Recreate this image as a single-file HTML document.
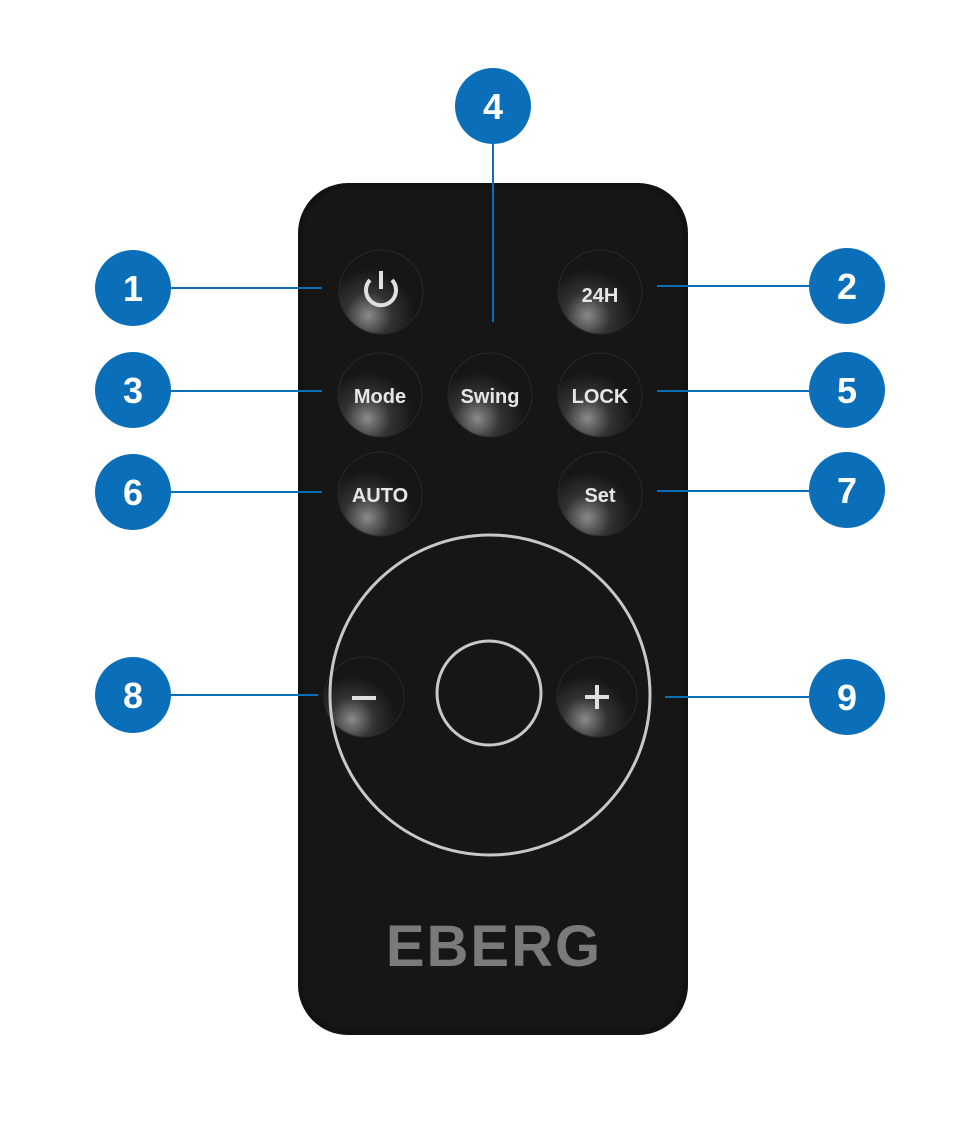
<!DOCTYPE html><html><head><style>body{margin:0;background:#fff;width:970px;height:1142px;overflow:hidden}</style></head><body>
<svg width="970" height="1142" xmlns="http://www.w3.org/2000/svg">
<defs>
<radialGradient id="b" cx="0.35" cy="0.78" r="0.55"><stop offset="0" stop-color="#8a8a8a"/><stop offset="0.5" stop-color="#333"/><stop offset="1" stop-color="#161616"/></radialGradient>
</defs>
<rect x="298" y="183" width="390" height="852" rx="50" fill="#121212"/>
<rect x="303" y="188" width="380" height="842" rx="46" fill="#161616"/>
<g fill="url(#b)" stroke="#2a2a2a" stroke-width="1">
<circle cx="381" cy="292" r="42"/><circle cx="600" cy="292" r="42"/>
<circle cx="380" cy="395" r="42"/><circle cx="490" cy="395" r="42"/><circle cx="600" cy="395" r="42"/>
<circle cx="380" cy="494" r="42"/><circle cx="600" cy="494" r="42"/>
<circle cx="364" cy="697" r="40"/><circle cx="597" cy="697" r="40"/>
</g>
<circle cx="490" cy="695" r="160" fill="none" stroke="#c8c8c8" stroke-width="3"/>
<circle cx="489" cy="693" r="52" fill="none" stroke="#c8c8c8" stroke-width="3"/>
<path d="M370 280 A15 15 0 1 0 392 280" fill="none" stroke="#e0e0e0" stroke-width="4"/>
<line x1="381" y1="271" x2="381" y2="289" stroke="#e0e0e0" stroke-width="4"/>
<g font-family="Liberation Sans,sans-serif" font-weight="bold" fill="#e6e6e6" font-size="20" text-anchor="middle">
<text x="600" y="302">24H</text><text x="380" y="403">Mode</text><text x="490" y="403">Swing</text><text x="600" y="403">LOCK</text>
<text x="380" y="502">AUTO</text><text x="600" y="502">Set</text>
</g>
<line x1="352" y1="698" x2="376" y2="698" stroke="#e0e0e0" stroke-width="4"/>
<line x1="585" y1="697" x2="609" y2="697" stroke="#e0e0e0" stroke-width="4"/><line x1="597" y1="685" x2="597" y2="709" stroke="#e0e0e0" stroke-width="4"/>
<text x="494" y="966" font-family="Liberation Sans,sans-serif" font-weight="bold" font-size="58" fill="#7a7a7a" text-anchor="middle" letter-spacing="2">EBERG</text>
<g stroke="#0a6fb8" stroke-width="2">
<line x1="170" y1="288" x2="322" y2="288"/><line x1="657" y1="286" x2="810" y2="286"/>
<line x1="170" y1="391" x2="322" y2="391"/><line x1="493" y1="143" x2="493" y2="322"/>
<line x1="657" y1="391" x2="810" y2="391"/><line x1="170" y1="492" x2="322" y2="492"/>
<line x1="657" y1="491" x2="810" y2="491"/><line x1="170" y1="695" x2="318" y2="695"/>
<line x1="665" y1="697" x2="810" y2="697"/>
</g>
<g fill="#0a6fb8">
<circle cx="133" cy="288" r="38"/><circle cx="847" cy="286" r="38"/><circle cx="133" cy="390" r="38"/>
<circle cx="493" cy="106" r="38"/><circle cx="847" cy="390" r="38"/><circle cx="133" cy="492" r="38"/>
<circle cx="847" cy="490" r="38"/><circle cx="133" cy="695" r="38"/><circle cx="847" cy="697" r="38"/>
</g>
<g font-family="Liberation Sans,sans-serif" font-weight="bold" fill="#fff" font-size="36" text-anchor="middle">
<text x="133" y="301">1</text><text x="847" y="299">2</text><text x="133" y="403">3</text><text x="493" y="119">4</text>
<text x="847" y="403">5</text><text x="133" y="505">6</text><text x="847" y="503">7</text><text x="133" y="708">8</text><text x="847" y="710">9</text>
</g>
</svg></body></html>
